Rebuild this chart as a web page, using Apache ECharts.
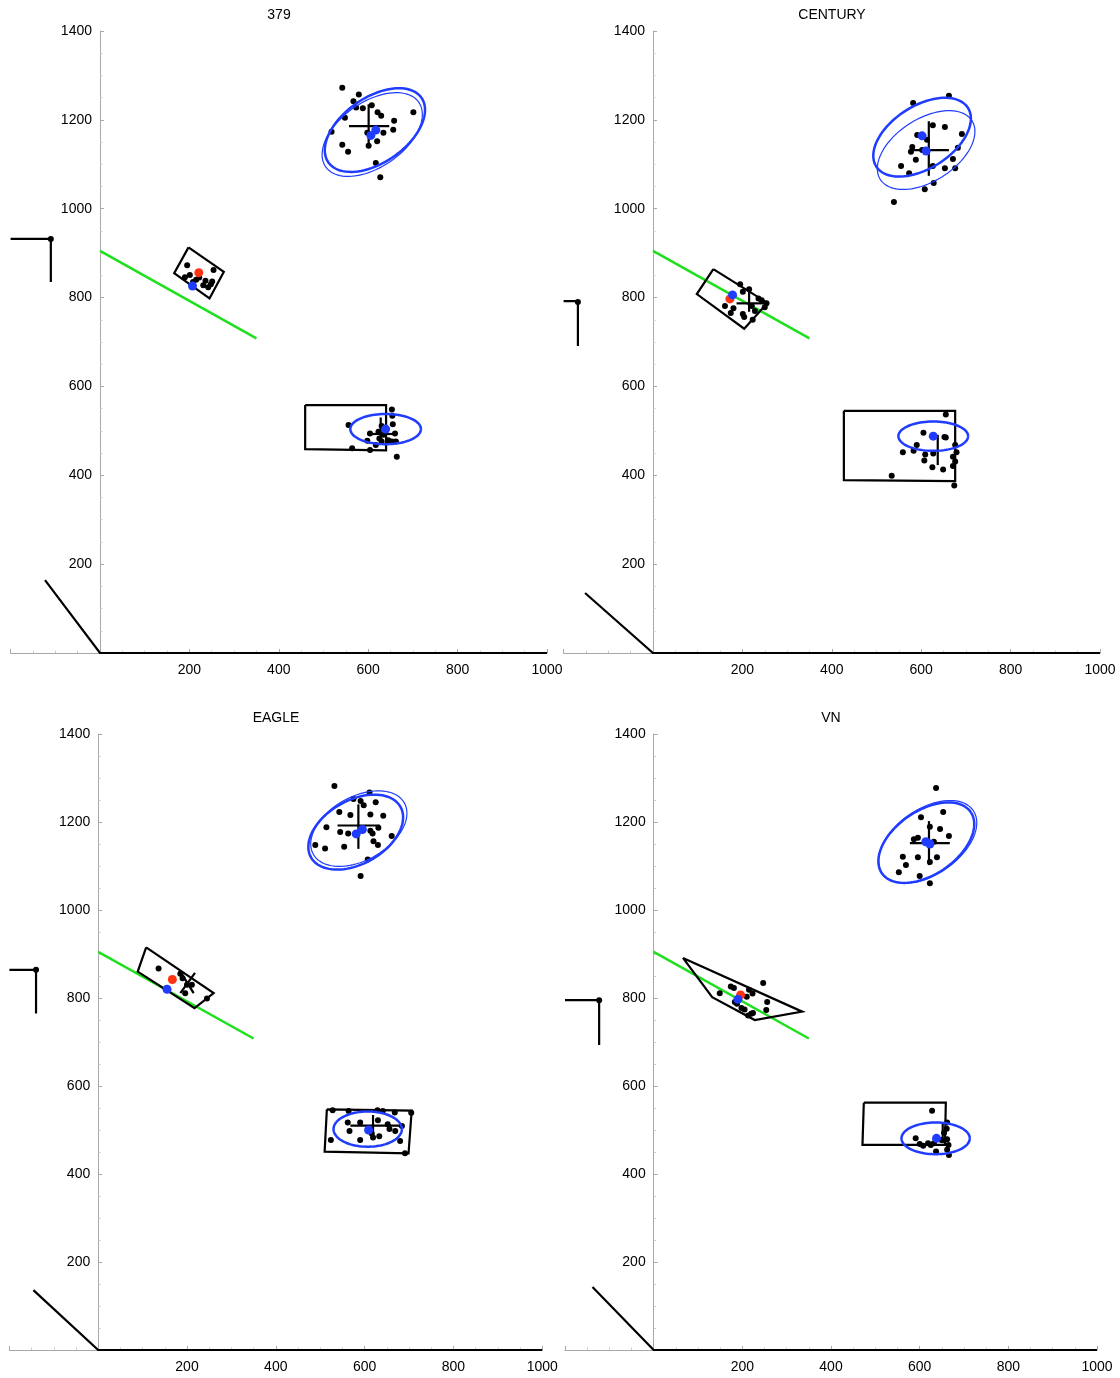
<!DOCTYPE html>
<html>
<head>
<meta charset="utf-8">
<title>clusters</title>
<script src="https://cdn.jsdelivr.net/npm/echarts@6/dist/echarts.min.js"></script>
<style>
  html, body { margin: 0; padding: 0; background: #fff; }
  #main { width: 1120px; height: 1378px; }
</style>
</head>
<body>
<div id="main"></div>
<script>
const titles = ['379', 'CENTURY', 'EAGLE', 'VN']
const xTickLabels = [200, 400, 600, 800, 1000]
const yTickLabels = [200, 400, 600, 800, 1000, 1200, 1400]
const greenLine = [[0, 905], [350, 708]]

// 379
const dots379 = [
  [542, 1272], [579, 1257], [567, 1242], [573, 1228], [588, 1226], [608, 1233], [621, 1217], [629, 1209],
  [548, 1205], [658, 1198], [701, 1217], [656, 1178], [518, 1173], [598, 1171], [634, 1171], [620, 1152],
  [542, 1144], [555, 1128], [601, 1142], [617, 1103], [627, 1071],
  [195, 873], [254, 862], [251, 836], [190, 846], [201, 851], [215, 840], [231, 828], [242, 823],
  [222, 845], [208, 835], [236, 838], [248, 830],
  [653, 548], [654, 534], [556, 513], [655, 515], [630, 511], [604, 494], [623, 498], [634, 491],
  [660, 494], [598, 478], [625, 483], [630, 476], [645, 479], [653, 476], [662, 476], [617, 468],
  [564, 461], [604, 457], [664, 442],
  [-110, 932]
]
const blue379 = [[617, 1177], [606, 1165], [207, 826], [639, 504]]
const red379 = [[221, 856]]
const lines379 = [
  [[-200, 932], [-110, 932], [-110, 835]],
  [[-123, 164], [0, 0], [1000, 0]],
  [[198, 913], [277, 858], [245, 798], [166, 855], [198, 913]],
  [[557, 1186], [647, 1186]], [[601, 1235], [601, 1141]],
  [[459, 558], [640, 558], [640, 456], [459, 459], [459, 558]],
  [[598, 493], [660, 493]], [[628, 530], [628, 470]]
]
// cx, cy, a, b, angle, width
const ell379 = [[615, 1177, 127, 73, 35, 2.5], [609, 1167, 127, 73, 35, 1.2], [639, 504, 79, 34, 0, 2.5]]

// CENTURY
const dotsCentury = [
  [582, 1238], [662, 1254], [626, 1188], [653, 1184], [691, 1168], [682, 1137], [613, 1155], [580, 1139],
  [577, 1128], [588, 1110], [555, 1096], [573, 1080], [626, 1096], [653, 1091], [676, 1091], [671, 1112],
  [628, 1058], [608, 1044], [539, 1015], [602, 1132], [591, 1166],
  [195, 830], [215, 819], [201, 813], [236, 798], [243, 794], [254, 787], [221, 781], [250, 778],
  [161, 781], [180, 776], [174, 765], [201, 763], [204, 756], [228, 770], [223, 750],
  [655, 537], [605, 496], [655, 485], [590, 468], [559, 452], [583, 455], [609, 447], [627, 449],
  [676, 468], [679, 452], [671, 442], [607, 433], [676, 431], [625, 418], [649, 413], [671, 421],
  [534, 399], [674, 377], [652, 486],
  [-168, 790]
]
const blueCentury = [[602, 1164], [611, 1130], [178, 806], [627, 488]]
const redCentury = [[172, 797]]
const linesCentury = [
  [[-200, 792], [-168, 792], [-168, 691]],
  [[-152, 135], [0, 0], [1000, 0]],
  [[135, 864], [256, 788], [204, 730], [98, 808], [135, 864]],
  [[187, 787], [251, 787]], [[215, 821], [215, 768]],
  [[573, 1132], [662, 1132]], [[617, 1197], [617, 1074]],
  [[427, 545], [676, 545], [676, 387], [427, 389], [427, 545]],
  [[637, 491], [637, 423]]
]
const ellCentury = [[602, 1161, 122, 70, 33, 2.5], [611, 1132, 122, 70, 33, 1.2], [627, 488, 78, 33, 0, 2.5]]

// EAGLE
const dotsEagle = [
  [532, 1282], [611, 1267], [575, 1252], [591, 1248], [598, 1238], [625, 1245], [543, 1223], [568, 1216],
  [613, 1217], [642, 1214], [514, 1188], [545, 1177], [563, 1174], [613, 1180], [631, 1187], [661, 1168],
  [489, 1148], [511, 1140], [554, 1144], [620, 1156], [630, 1148], [607, 1115], [591, 1077], [618, 1174],
  [136, 867], [185, 855], [196, 811], [211, 830], [245, 799], [200, 830], [190, 845],
  [528, 545], [564, 543], [629, 545], [641, 543], [668, 540], [705, 539], [562, 517], [590, 517],
  [630, 522], [652, 513], [684, 509], [566, 498], [616, 492], [619, 483], [633, 486], [656, 502],
  [669, 498], [524, 477], [590, 477], [680, 475], [691, 447],
  [-140, 864]
]
const blueEagle = [[595, 1183], [581, 1173], [155, 820], [609, 500]]
const redEagle = [[167, 842]]
const linesEagle = [
  [[-200, 864], [-140, 864], [-140, 765]],
  [[-146, 136], [0, 0], [1000, 0]],
  [[108, 915], [260, 811], [217, 777], [89, 860], [108, 915]],
  [[185, 860], [215, 811]], [[218, 857], [185, 811]],
  [[539, 1192], [634, 1192]], [[586, 1240], [586, 1139]],
  [[515, 547], [706, 544], [699, 447], [510, 451], [515, 547]],
  [[568, 510], [680, 510]], [[619, 534], [619, 481]]
]
const ellEagle = [[580, 1177, 116, 72, 30, 2.5], [587, 1185, 118, 72, 30, 1.2], [607, 502, 77, 40, 0, 2.5]]

// VN
const dotsVn = [
  [637, 1277], [653, 1223], [603, 1211], [623, 1189], [646, 1184], [666, 1168], [596, 1164], [587, 1161],
  [614, 1152], [632, 1155], [562, 1121], [596, 1120], [639, 1120], [623, 1109], [569, 1102], [553, 1086],
  [600, 1077], [623, 1061],
  [247, 834], [149, 811], [174, 826], [181, 823], [215, 819], [223, 810], [210, 803], [256, 791],
  [254, 773], [183, 791], [188, 787], [198, 777], [205, 774], [224, 766], [220, 764], [213, 760],
  [628, 544], [662, 517], [661, 503], [655, 494], [591, 481], [600, 468], [608, 464], [619, 470],
  [625, 466], [632, 470], [649, 477], [662, 479], [665, 466], [637, 451], [662, 455], [666, 443],
  [-123, 795]
]
const blueVn = [[614, 1155], [623, 1150], [190, 797], [638, 481]]
const redVn = [[196, 807]]
const linesVn = [
  [[-200, 795], [-123, 795], [-123, 693]],
  [[-138, 143], [0, 0], [1000, 0]],
  [[66, 891], [335, 769], [228, 750], [132, 802], [66, 891]],
  [[578, 1152], [668, 1152]], [[621, 1202], [621, 1102]],
  [[474, 562], [659, 562], [657, 466], [471, 466], [474, 562]],
  [[652, 515], [652, 470]]
]
const ellVn = [[615, 1153, 122, 72, 35, 2.5], [618, 1155, 125, 74, 35, 1.2], [636, 481, 77, 36, 0, 2.5]]

const panels = [
  { dots: dots379, blue: blue379, red: red379, lines: lines379, ell: ell379 },
  { dots: dotsCentury, blue: blueCentury, red: redCentury, lines: linesCentury, ell: ellCentury },
  { dots: dotsEagle, blue: blueEagle, red: redEagle, lines: linesEagle, ell: ellEagle },
  { dots: dotsVn, blue: blueVn, red: redVn, lines: linesVn, ell: ellVn }
]
// grid boxes in px (x from -200, so the y axis sits 1/6 of the width in)
const boxes = [
  { left: 10.6, top: 31, width: 536.4, height: 622, tx: 274, ty: 3 },
  { left: 563.6, top: 31, width: 536.4, height: 622, tx: 827, ty: 3 },
  { left: 9.4, top: 734, width: 532.8, height: 616, tx: 271, ty: 706 },
  { left: 565, top: 734, width: 532, height: 616, tx: 826, ty: 706 }
]

const BLUE = '#1f3cff'
const axisColor = '#a8a8a8'
const font = 'Liberation Sans, Arial, sans-serif'

function ellipseItem(params, api) {
  const cx = api.value(0), cy = api.value(1)
  const a = api.value(2), b = api.value(3)
  const t0 = api.value(4) * Math.PI / 180
  const pts = []
  for (let i = 0; i <= 90; i++) {
    const t = i / 90 * Math.PI * 2
    const x = cx + a * Math.cos(t) * Math.cos(t0) - b * Math.sin(t) * Math.sin(t0)
    const y = cy + a * Math.cos(t) * Math.sin(t0) + b * Math.sin(t) * Math.cos(t0)
    pts.push(api.coord([x, y]))
  }
  return {
    type: 'polyline',
    shape: { points: pts },
    style: { fill: null, stroke: BLUE, lineWidth: api.value(5) }
  }
}

let grid = [], xAxis = [], yAxis = [], title = [], series = []
panels.forEach((p, i) => {
  const b = boxes[i]
  grid.push({ left: b.left, top: b.top, width: b.width, height: b.height, outerBoundsMode: 'none' })
  title.push({
    text: titles[i], left: b.tx, top: b.ty, textAlign: 'center',
    textStyle: { fontSize: 14, fontWeight: 'normal', color: '#000', fontFamily: font }
  })
  xAxis.push({
    gridIndex: i, type: 'value', min: -200, max: 1000, interval: 200,
    axisLine: { onZero: false, lineStyle: { color: axisColor } },
    axisTick: { inside: true, length: 4, lineStyle: { color: axisColor } },
    minorTick: { show: true, splitNumber: 4, length: 2.5, lineStyle: { color: '#ccc' } },
    splitLine: { show: false },
    axisLabel: {
      color: '#000', fontSize: 14, fontFamily: font, margin: 10,
      formatter: v => xTickLabels.includes(v) ? String(v) : ''
    }
  })
  yAxis.push({
    gridIndex: i, type: 'value', min: 0, max: 1400, interval: 200,
    // shift the whole axis (line + labels) to x = 0
    offset: -b.width / 6,
    axisLine: { onZero: false, lineStyle: { color: axisColor } },
    axisTick: { inside: true, length: 4, lineStyle: { color: axisColor } },
    minorTick: { show: true, splitNumber: 4, length: 2.5, lineStyle: { color: '#ccc' } },
    splitLine: { show: false },
    axisLabel: {
      color: '#000', fontSize: 14, fontFamily: font, margin: 8,
      formatter: v => yTickLabels.includes(v) ? String(v) : ''
    }
  })
  series.push({
    type: 'lines', coordinateSystem: 'cartesian2d', xAxisIndex: i, yAxisIndex: i,
    polyline: true, silent: true, z: 2,
    lineStyle: { color: '#1ee01e', width: 2.5, opacity: 1 },
    data: [{ coords: greenLine }]
  })
  series.push({
    type: 'lines', coordinateSystem: 'cartesian2d', xAxisIndex: i, yAxisIndex: i,
    polyline: true, silent: true, z: 3,
    lineStyle: { color: '#000', width: 2.2, opacity: 1 },
    data: p.lines.map(c => ({ coords: c }))
  })
  series.push({
    type: 'scatter', xAxisIndex: i, yAxisIndex: i, z: 4, silent: true,
    symbolSize: 6, itemStyle: { color: '#000', opacity: 1 }, data: p.dots
  })
  series.push({
    type: 'custom', xAxisIndex: i, yAxisIndex: i, z: 5, silent: true,
    renderItem: ellipseItem, encode: { x: 0, y: 1 }, data: p.ell
  })
  series.push({
    type: 'scatter', xAxisIndex: i, yAxisIndex: i, z: 6, silent: true,
    symbolSize: 9, itemStyle: { color: '#ff3311', opacity: 1 }, data: p.red
  })
  series.push({
    type: 'scatter', xAxisIndex: i, yAxisIndex: i, z: 7, silent: true,
    symbolSize: 9, itemStyle: { color: BLUE, opacity: 1 }, data: p.blue
  })
})

const chart = echarts.init(document.getElementById('main'))
chart.setOption({
  animation: false,
  backgroundColor: '#fff',
  title, grid, xAxis, yAxis, series
})
</script>
</body>
</html>
